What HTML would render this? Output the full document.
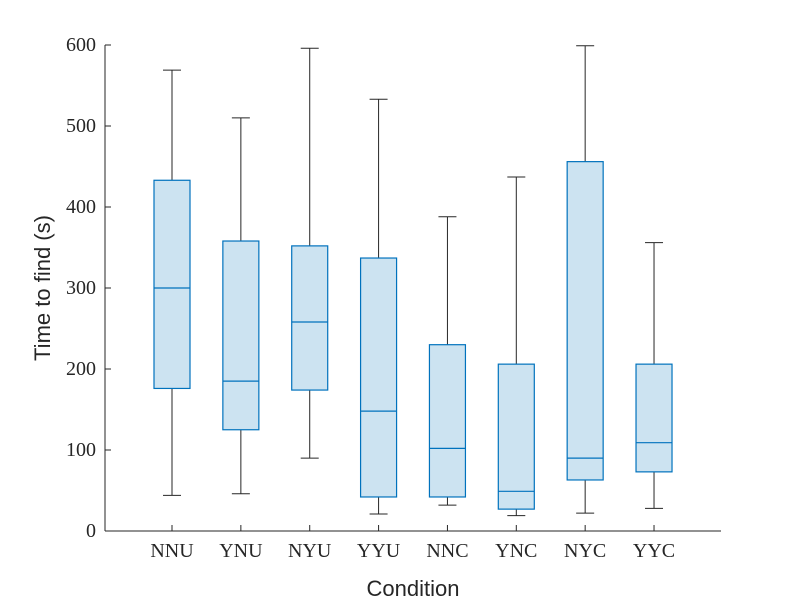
<!DOCTYPE html>
<html><head><meta charset="utf-8"><style>
body{margin:0;background:#fff;}
svg{display:block;}
.tick{font-family:"Liberation Serif",serif;font-size:20px;fill:#262626;}
.title{font-family:"Liberation Sans",sans-serif;font-size:22px;fill:#262626;}
</style></head><body>
<svg id="chart" width="799" height="603">
<g id="plot"></g>
<text class="title" x="413" y="596" text-anchor="middle">Condition</text>
<text class="title" transform="translate(50,288) rotate(-90)" text-anchor="middle">Time to find (s)</text>
</svg>
<script>
const categories=["NNU","YNU","NYU","YYU","NNC","YNC","NYC","YYC"];
const whiskerLow=[44,46,90,21,32,19,22,28];
const q1=[176,125,174,42,42,27,63,73];
const medians=[300,185,258,148,102,49,90,109];
const q3=[433,358,352,337,230,206,456,206];
const whiskerHigh=[569,510,596,533,388,437,599,356];
const yTicks=[0,100,200,300,400,500,600];

const NS="http://www.w3.org/2000/svg";
const g=document.getElementById('plot');
const X0=105,X1=721,Y0=531,Y1=45;
const y=v=>Y0-(v/600)*(Y0-Y1);
const x=i=>172+i*68.86;
function mk(tag,attrs){const e=document.createElementNS(NS,tag);for(const k in attrs)e.setAttribute(k,attrs[k]);g.appendChild(e);return e;}
let ax=mk('line',{x1:X0,y1:Y0,x2:X1,y2:Y0,stroke:'#262626','stroke-width':1});


let ay=mk('line',{x1:X0,y1:Y0,x2:X0,y2:Y1,stroke:'#262626','stroke-width':1});


yTicks.forEach(t=>{
  let tk=mk('line',{x1:X0,y1:y(t),x2:X0+6,y2:y(t),stroke:'#262626'});
  
  
  let tl=mk('text',{x:X0-9,y:y(t)+6,'text-anchor':'end',class:'tick'});
  tl.textContent=t;
  
  
});
categories.forEach((c,i)=>{
  const cx=x(i),bw=36,cw=18;
  let tk=mk('line',{x1:cx,y1:Y0,x2:cx,y2:Y0-6,stroke:'#262626'});
  
  
  let tl=mk('text',{x:cx,y:557,'text-anchor':'middle',class:'tick'});
  tl.textContent=c;
  
  
  let w1=mk('line',{x1:cx,y1:y(q3[i]),x2:cx,y2:y(whiskerHigh[i]),stroke:'#262626'});
  
  
  let w2=mk('line',{x1:cx,y1:y(q1[i]),x2:cx,y2:y(whiskerLow[i]),stroke:'#262626'});
  
  
  let c1=mk('line',{x1:cx-cw/2,y1:y(whiskerHigh[i]),x2:cx+cw/2,y2:y(whiskerHigh[i]),stroke:'#262626'});
  
  
  let c2=mk('line',{x1:cx-cw/2,y1:y(whiskerLow[i]),x2:cx+cw/2,y2:y(whiskerLow[i]),stroke:'#262626'});
  
  
  let b=mk('rect',{x:cx-bw/2,y:y(q3[i]),width:bw,height:y(q1[i])-y(q3[i]),fill:'#cce3f1',stroke:'#0072bd','stroke-width':1.2});
  
  
  let m=mk('line',{x1:cx-bw/2,y1:y(medians[i]),x2:cx+bw/2,y2:y(medians[i]),stroke:'#0072bd','stroke-width':1.2});
  
  
});
</script>
</body></html>
